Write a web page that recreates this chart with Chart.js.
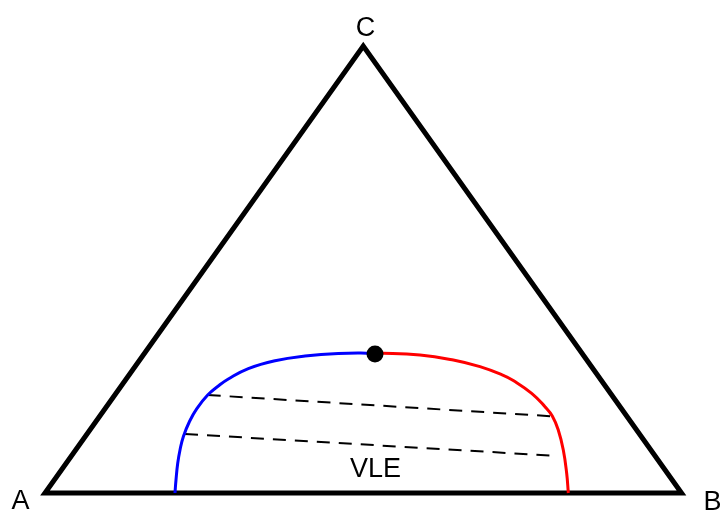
<!DOCTYPE html>
<html>
<head>
<meta charset="utf-8">
<title>Ternary VLE diagram</title>
<script src="https://cdn.jsdelivr.net/npm/chart.js@4/dist/chart.umd.min.js"></script>
<style>
    html, body { margin: 0; padding: 0; background: #ffffff; }
    canvas { display: block; }
</style>
</head>
<body>
<canvas id="ternaryChart" width="720" height="511"></canvas>
<script>
// Triangle corners in plot units (A-B base, C at the top)
const cornerX = [0, 1, 0.5, 0, 1];
const cornerY = [0, 0, 1, 0, 0];

// Two-phase envelope, left branch (blue) up to the plait point
const leftX = [0.2042, 0.2058, 0.2085, 0.2121, 0.2173, 0.2270, 0.2383, 0.2556, 0.2723, 0.2880, 0.3194, 0.3614, 0.4085, 0.4608, 0.5185];
const leftY = [0.0000, 0.0291, 0.0664, 0.0962, 0.1260, 0.1600, 0.1884, 0.2192, 0.2394, 0.2550, 0.2783, 0.2960, 0.3065, 0.3121, 0.3130];

// Right branch (red) from the plait point down to the base
const rightX = [0.5185, 0.5892, 0.6415, 0.6834, 0.7200, 0.7357, 0.7646, 0.7855, 0.7970, 0.8064, 0.8143, 0.8196, 0.8222];
const rightY = [0.3130, 0.3087, 0.2975, 0.2826, 0.2633, 0.2517, 0.2230, 0.1931, 0.1723, 0.1409, 0.0962, 0.0441, 0.0000];

// Tie lines: [start, end]
const tie1X = [0.2556, 0.7970];
const tie1Y = [0.2192, 0.1716];
const tie2X = [0.2200, 0.8064];
const tie2Y = [0.1320, 0.0828];

// Plait point
const plaitX = [0.5185];
const plaitY = [0.3110];

// Text labels
const labelText = ['A', 'B', 'C', 'VLE'];
const labelX = [-0.0385, 1.0487, 0.5035, 0.5193];
const labelY = [-0.0358, -0.0380, 1.0224, 0.0358];

function toPoints(xs, ys) {
    return xs.map(function (x, i) { return { x: x, y: ys[i] }; });
}

// Draws the corner names and the region label
const labelPlugin = {
    id: 'labels',
    afterDatasetsDraw: function (chart) {
        const ctx = chart.ctx;
        const xs = chart.scales.x;
        const ys = chart.scales.y;
        ctx.save();
        ctx.fillStyle = '#000000';
        ctx.font = '27px "Liberation Sans", Arial, sans-serif';
        ctx.textAlign = 'center';
        ctx.textBaseline = 'alphabetic';
        for (let i = 0; i < labelText.length; i++) {
            ctx.fillText(labelText[i], xs.getPixelForValue(labelX[i]), ys.getPixelForValue(labelY[i]));
        }
        ctx.restore();
    }
};

const lineBase = {
    showLine: true,
    pointRadius: 0,
    pointHoverRadius: 0,
    clip: false,
    fill: false
};

const ctx = document.getElementById('ternaryChart').getContext('2d');
const myChart = new Chart(ctx, {
    type: 'scatter',
    data: {
        datasets: [
            Object.assign({}, lineBase, {
                data: toPoints(plaitX, plaitY),
                showLine: false,
                pointRadius: 8.5,
                pointBackgroundColor: '#000000',
                pointBorderWidth: 0,
                order: 0
            }),
            Object.assign({}, lineBase, {
                data: toPoints(leftX, leftY),
                borderColor: '#0000ff',
                borderWidth: 3,
                tension: 0.45,
                order: 1
            }),
            Object.assign({}, lineBase, {
                data: toPoints(rightX, rightY),
                borderColor: '#ff0000',
                borderWidth: 3,
                tension: 0.45,
                order: 1
            }),
            Object.assign({}, lineBase, {
                data: toPoints(tie1X, tie1Y),
                borderColor: '#000000',
                borderWidth: 2,
                borderDash: [13, 9],
                order: 2
            }),
            Object.assign({}, lineBase, {
                data: toPoints(tie2X, tie2Y),
                borderColor: '#000000',
                borderWidth: 2,
                borderDash: [13, 9],
                order: 2
            }),
            Object.assign({}, lineBase, {
                data: toPoints(cornerX, cornerY),
                borderColor: '#000000',
                borderWidth: 5,
                borderJoinStyle: 'miter',
                tension: 0,
                order: 3
            })
        ]
    },
    options: {
        responsive: false,
        animation: false,
        events: [],
        layout: {
            padding: { left: 45, right: 38.5, top: 46, bottom: 18 }
        },
        plugins: {
            legend: { display: false },
            tooltip: { enabled: false }
        },
        scales: {
            x: { type: 'linear', min: 0, max: 1, display: false },
            y: { type: 'linear', min: 0, max: 1, display: false }
        }
    },
    plugins: [labelPlugin]
});
</script>
</body>
</html>
